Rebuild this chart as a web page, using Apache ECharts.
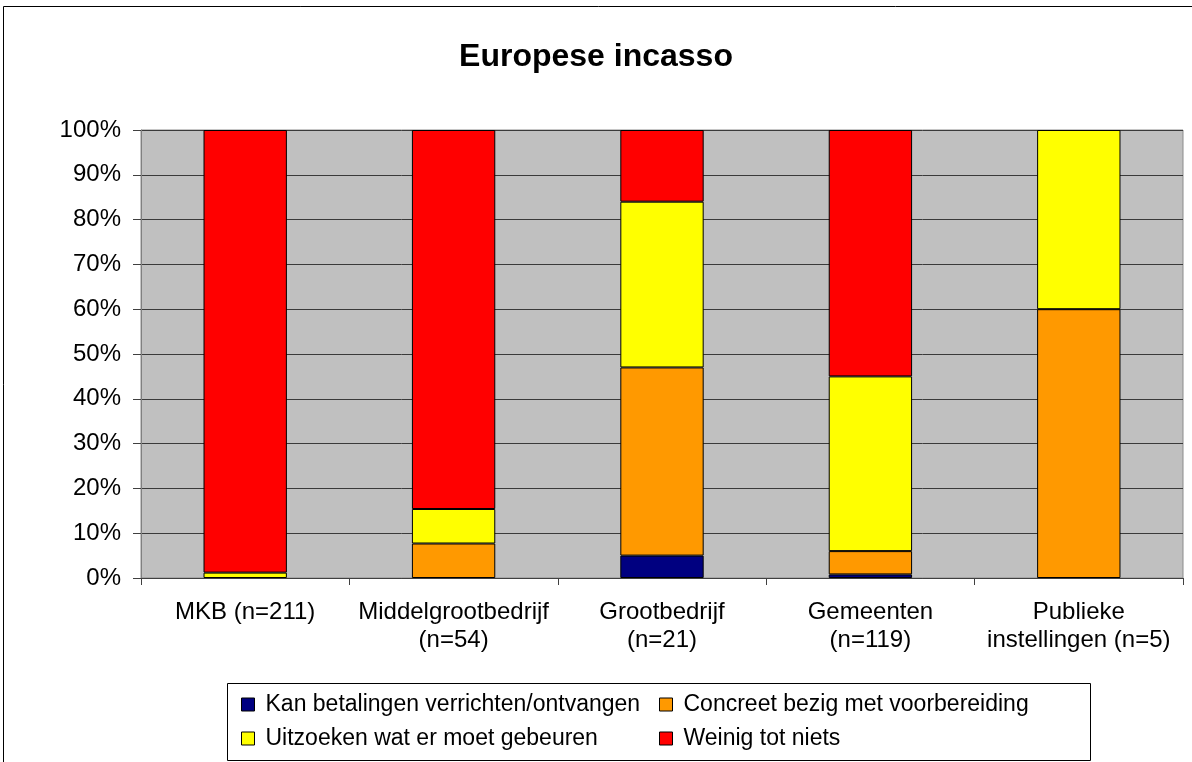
<!DOCTYPE html>
<html>
<head>
<meta charset="utf-8">
<script src="https://cdn.jsdelivr.net/npm/echarts@6/dist/echarts.min.js"></script>
<style>
  html, body { margin: 0; padding: 0; background: #fff; }
  #main { width: 1192px; height: 762px; }
</style>
</head>
<body>
<div id="main"></div>
<script>
// categorieën en aandelen (%) per groep
const categories = [
  "MKB (n=211)",
  "Middelgrootbedrijf\n(n=54)",
  "Grootbedrijf\n(n=21)",
  "Gemeenten\n(n=119)",
  "Publieke\ninstellingen (n=5)",
];
const kanBetalen = [0, 0, 5, 0.8, 0];
const concreetBezig = [0, 7.7, 42, 5.2, 60];
const uitzoeken = [1.2, 7.7, 37, 39, 40];
const weinigNiets = [98.8, 84.6, 16, 55, 0];
const seriesNames = [
  "Kan betalingen verrichten/ontvangen",
  "Concreet bezig met voorbereiding",
  "Uitzoeken wat er moet gebeuren",
  "Weinig tot niets",
];
const seriesColors = ["#000080", "#FF9900", "#FFFF00", "#FF0000"];
const yTicks = [0, 10, 20, 30, 40, 50, 60, 70, 80, 90, 100];

const font = '"Liberation Sans", Arial, sans-serif';
const myChart = echarts.init(document.getElementById("main"), null, { renderer: "canvas" });

const values = [kanBetalen, concreetBezig, uitzoeken, weinigNiets];
const series = values.map((vals, i) => ({
  name: seriesNames[i],
  type: "bar",
  stack: "totaal",
  barWidth: "40%",
  // lege segmenten niet tekenen
  data: vals.map((v) => (v === 0 ? "-" : v)),
  itemStyle: { color: seriesColors[i], borderColor: "#000", borderWidth: 1 },
}));

const legendCommon = {
  orient: "vertical",
  top: 688,
  itemWidth: 13,
  itemHeight: 13,
  itemGap: 11,
  icon: "rect",
  itemStyle: { borderColor: "#000", borderWidth: 1 },
  textStyle: { fontSize: 23, fontFamily: font, color: "#000", padding: [0, 0, 0, 6] },
};

const option = {
  animation: false,
  backgroundColor: "#fff",
  title: {
    text: "Europese incasso",
    left: "center",
    top: 36,
    textStyle: { fontSize: 32, fontWeight: "bold", fontFamily: font, color: "#000" },
  },
  legend: [
    Object.assign({ left: 236, data: [seriesNames[0], seriesNames[2]] }, legendCommon),
    Object.assign({ left: 654, data: [seriesNames[1], seriesNames[3]] }, legendCommon),
  ],
  grid: {
    left: 141,
    right: 9,
    top: 130,
    bottom: 184,
    show: true,
    backgroundColor: "#C0C0C0",
    borderColor: "#8c8c8c",
    borderWidth: 1,
  },
  xAxis: {
    type: "category",
    data: categories,
    axisLine: { lineStyle: { color: "#404040", width: 1 } },
    axisTick: { show: true, length: 7, lineStyle: { color: "#404040" } },
    axisLabel: { interval: 0, fontSize: 24, fontFamily: font, color: "#000", lineHeight: 28, margin: 20 },
  },
  yAxis: {
    type: "value",
    min: yTicks[0],
    max: yTicks[yTicks.length - 1],
    interval: 10,
    axisLine: { show: true, lineStyle: { color: "#808080" } },
    axisTick: { show: true, length: 8, lineStyle: { color: "#404040" } },
    axisLabel: { formatter: "{value}%", fontSize: 24, fontFamily: font, color: "#000", margin: 20 },
    splitLine: { lineStyle: { color: "#3a3a3a", width: 1 } },
  },
  graphic: [
    {
      type: "rect",
      shape: { x: 3.5, y: 6.5, width: 1300, height: 900 },
      style: { fill: "none", stroke: "#000", lineWidth: 1 },
      silent: true,
    },
    {
      type: "rect",
      shape: { x: 227.5, y: 683.5, width: 863, height: 77 },
      style: { fill: "none", stroke: "#000", lineWidth: 1 },
      silent: true,
    },
  ],
  series: series,
};

option && myChart.setOption(option);
</script>
</body>
</html>
